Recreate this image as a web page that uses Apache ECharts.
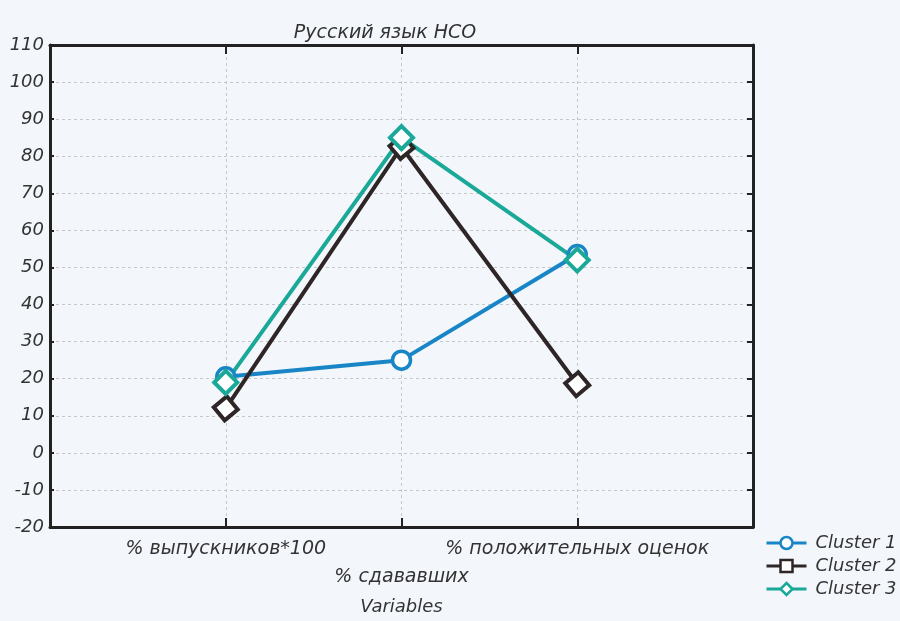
<!DOCTYPE html>
<html>
<head>
<meta charset="utf-8">
<script src="https://cdn.jsdelivr.net/npm/echarts@6/dist/echarts.min.js"></script>
<style>
html,body{margin:0;padding:0;background:#f3f6fa;}
#chart{width:900px;height:621px;}
</style>
</head>
<body>
<div id="chart"></div>
<script>
const categories = ['% выпускников*100', '% сдававших', '% положительных оценок'];
const seriesNames = ['Cluster 1', 'Cluster 2', 'Cluster 3'];
const cluster1 = [20.5, 25, 53.5];
const cluster2 = [12, 82.5, 18.5];
const cluster3 = [19, 85, 52];
const yTicks = { min: -20, max: 110, interval: 10 };
const titleText = 'Русский язык НСО';
const xAxisName = 'Variables';

const FONT = '"DejaVu Sans", sans-serif';
const toPoints = arr => arr.map((v, i) => [i + 1, v]);

const chart = echarts.init(document.getElementById('chart'));
const frame = { onZero: false, lineStyle: { color: '#222', width: 3 } };
const txt = { fontFamily: FONT, fontStyle: 'italic', fontWeight: 'normal', fontSize: 18, color: '#333' };
const txt19 = Object.assign({}, txt, { fontSize: 19 });

chart.setOption({
  backgroundColor: '#f3f6fa',
  animation: false,
  title: {
    text: titleText, left: 380, top: 19, textAlign: 'center',
    textStyle: Object.assign({}, txt, { fontSize: 19 })
  },
  grid: { left: 50, right: 147, top: 45, bottom: 94, containLabel: false, outerBoundsMode: 'none' },
  legend: {
    orient: 'vertical', left: 760, top: 529, itemGap: 5, itemWidth: 40, itemHeight: 15,
    symbolRotate: 0,
    lineStyle: { width: 3 },
    itemStyle: { borderWidth: 2.5 },
    data: seriesNames,
    textStyle: Object.assign({}, txt, { padding: [0, 0, 0, 4] })
  },
  xAxis: [{
    type: 'value', min: 0, max: 4, interval: 1, position: 'bottom',
    name: xAxisName, nameLocation: 'middle', nameGap: 71, nameMoveOverlap: false,
    nameTextStyle: txt,
    axisLine: frame,
    axisTick: { inside: true, length: 9, lineStyle: { color: '#222', width: 2 } },
    splitLine: { show: true, lineStyle: { type: [3, 3], color: '#c8c8c8', width: 1 } },
    axisLabel: {
      margin: 13,
      fontFamily: FONT, fontStyle: 'italic', fontSize: 19, color: '#333',
      formatter: function (v) {
        const c = categories[v - 1];
        if (c === undefined) return '';
        return (v === 2 ? '{b|' : '{a|') + c + '}';
      },
      rich: {
        a: Object.assign({}, txt19, { padding: [0, 0, 0, 0] }),
        b: Object.assign({}, txt19, { padding: [28, 0, 0, 0] })
      }
    }
  }, {
    type: 'value', min: 0, max: 4, interval: 1, position: 'top',
    axisLine: frame,
    axisTick: { inside: true, length: 9, lineStyle: { color: '#222', width: 2 } },
    splitLine: { show: false }, axisLabel: { show: false }
  }],
  yAxis: [{
    type: 'value', min: yTicks.min, max: yTicks.max, interval: yTicks.interval, position: 'left',
    axisLine: { show: true, onZero: false, lineStyle: { color: '#222', width: 3 } },
    axisTick: { show: true, inside: true, length: 4, lineStyle: { color: '#222', width: 2 } },
    splitLine: { show: true, lineStyle: { type: [3, 3], color: '#c8c8c8', width: 1 } },
    axisLabel: Object.assign({ margin: 6 }, txt)
  }, {
    type: 'value', min: yTicks.min, max: yTicks.max, interval: yTicks.interval, position: 'right',
    axisLine: { show: true, onZero: false, lineStyle: { color: '#222', width: 3 } },
    axisTick: { show: true, inside: true, length: 6, lineStyle: { color: '#222', width: 2 } },
    splitLine: { show: false }, axisLabel: { show: false }
  }],
  series: [{
    name: seriesNames[0], type: 'line', data: toPoints(cluster1),
    symbol: 'circle', symbolSize: 18,
    itemStyle: { color: '#fff', borderColor: '#1785c6', borderWidth: 3.5 },
    lineStyle: { color: '#1785c6', width: 4 }, color: '#1785c6'
  }, {
    name: seriesNames[1], type: 'line', data: toPoints(cluster2),
    symbol: 'rect', symbolSize: 17, symbolRotate: 40,
    itemStyle: { color: '#fff', borderColor: '#2e2626', borderWidth: 4 },
    lineStyle: { color: '#2e2626', width: 4 }, color: '#2e2626'
  }, {
    name: seriesNames[2], type: 'line', data: toPoints(cluster3),
    symbol: 'diamond', symbolSize: 23,
    itemStyle: { color: '#fff', borderColor: '#1aa898', borderWidth: 4 },
    lineStyle: { color: '#1aa898', width: 4 }, color: '#1aa898'
  }]
});
</script>
</body>
</html>
